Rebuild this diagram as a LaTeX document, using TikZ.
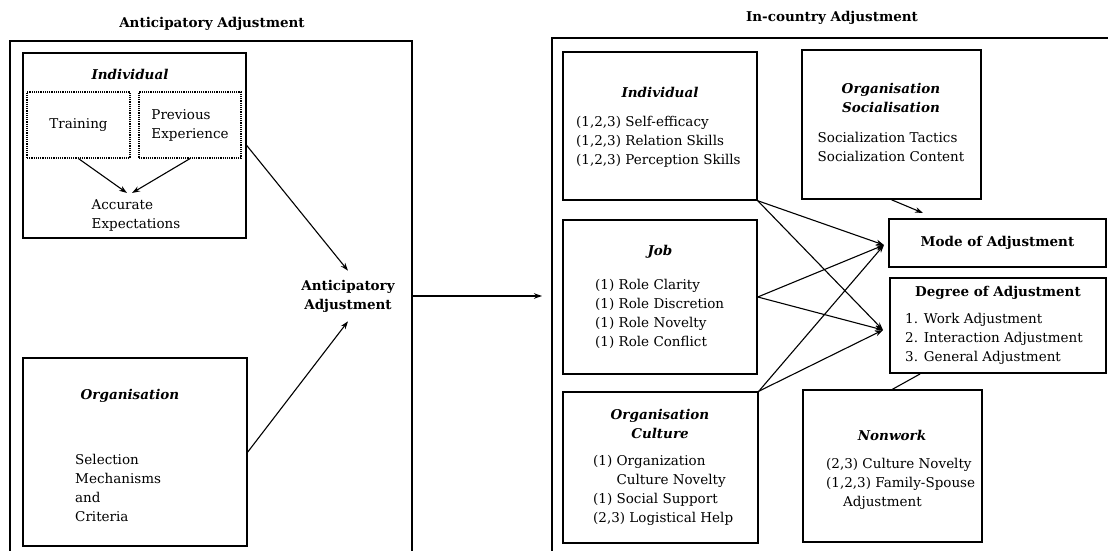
\documentclass[tikz,border=0pt]{standalone}
\usepackage{fontspec}
\setmainfont{DejaVu Serif}
\usetikzlibrary{arrows.meta}

\tikzset{
  box/.style={draw, line width=1.5pt, inner sep=0pt},
  dotbox/.style={draw, line width=1.2pt, densely dotted, inner sep=0pt},
  lbl/.style={font=\fontsize{13.5}{19}\selectfont, align=left, inner sep=0pt},
  ttl/.style={font=\fontsize{13.5}{19}\selectfont\bfseries\itshape, align=center, inner sep=0pt},
  bttl/.style={font=\fontsize{13.5}{19}\selectfont\bfseries, align=center, inner sep=0pt},
  arr/.style={-{Stealth[length=8pt,width=5.5pt]}, line width=1.1pt},
}

\begin{document}
\begin{tikzpicture}[x=1pt,y=-1pt]
\useasboundingbox (0,0) rectangle (1108,551);

% anticipatory side
\draw[line width=1.4pt] (10,560) -- (10,41) -- (412,41) -- (412,560);
\node[bttl] (titleL) at (212,24) {Anticipatory Adjustment};
\node[box, minimum width=223pt, minimum height=185pt] (indL) at (134.5,145.5) {};
\node[ttl] (indLt) at (130,74) {Individual};
\node[dotbox, lbl, minimum width=103pt, minimum height=66pt] (train) at (78.5,125) {Training};
\node[dotbox, lbl, minimum width=102pt, minimum height=66pt] (prev) at (190,125) {Previous\\Experience};
\node[lbl] (acc) at (136,215) {Accurate\\Expectations};
\coordinate (acc1) at (127,193);
\coordinate (acc2) at (132,193);
\node[box, minimum width=224pt, minimum height=188pt] (orgL) at (135,452) {};
\node[ttl] (orgLt) at (130,396) {Organisation};
\node[lbl, anchor=west] (sel) at (75,488) {Selection\\Mechanisms\\and\\Criteria};
\node[bttl, inner sep=9pt] (ant) at (348,296) {Anticipatory\\Adjustment};

\draw[arr] (train.south) -- (acc1);
\draw[arr] (prev.south) -- (acc2);
\draw[arr] (indL.east) -- (ant.north);
\draw[arr] (orgL.east) -- (ant.south);

\coordinate (outL) at (412,296);
\coordinate (outR) at (542,296);
\draw[arr] (outL) -- (outR);

% in-country side
\draw[line width=1.4pt] (552,560) -- (552,38) -- (1120,38);
\node[bttl] (titleR) at (832,18) {In-country Adjustment};

\node[box, minimum width=194pt, minimum height=148pt] (indR) at (660,126) {};
\node[ttl] (indRt) at (660,92) {Individual};
\node[lbl, anchor=west] (indRl) at (576,142) {(1,2,3) Self-efficacy\\(1,2,3) Relation Skills\\(1,2,3) Perception Skills};

\node[box, minimum width=194pt, minimum height=154pt] (job) at (660,297) {};
\node[ttl] (jobt) at (660,252) {Job};
\node[lbl, anchor=west] (jobl) at (595,313.5) {(1) Role Clarity\\(1) Role Discretion\\(1) Role Novelty\\(1) Role Conflict};

\node[box, minimum width=195pt, minimum height=151pt] (cult) at (660.5,467.5) {};
\node[ttl] (cultt) at (660,423.5) {Organisation\\Culture};
\node[lbl, anchor=west] (cultl) at (593,490.5) {(1) Organization\\\phantom{(1) }Culture Novelty\\(1) Social Support\\(2,3) Logistical Help};

\node[box, minimum width=179pt, minimum height=149pt] (soc) at (891.5,124.5) {};
\node[ttl] (soct) at (891,98) {Organisation\\Socialisation};
\node[lbl] (socl) at (891,147) {Socialization Tactics\\Socialization Content};

\node[box, bttl, minimum width=217pt, minimum height=48pt] (mode) at (997.5,243) {Mode of Adjustment};

\node[box, minimum width=216pt, minimum height=95pt] (deg) at (998,325.5) {};
\node[bttl] (degt) at (998,293) {Degree of Adjustment};
\node[lbl, anchor=west] (degl) at (905,339) {1. Work Adjustment\\2. Interaction Adjustment\\3. General Adjustment};

\node[box, minimum width=179pt, minimum height=152pt] (nonw) at (892.5,466) {};
\node[ttl] (nont) at (892,435) {Nonwork};
\node[lbl, anchor=west] (nonl) at (826,483.5) {(2,3) Culture Novelty\\(1,2,3) Family-Spouse\\\hspace*{17pt}Adjustment};

\coordinate (modeIn) at (884,245);
\coordinate (degIn) at (883,330);
\coordinate (modeTop) at (923,213);
\coordinate (degBot) at (920,374);

\draw[arr] (indR.south east) -- (modeIn);
\draw[arr] (indR.south east) -- (degIn);
\draw[arr] (job.east) -- (modeIn);
\draw[arr] (job.east) -- (degIn);
\draw[arr] (cult.north east) -- (modeIn);
\draw[arr] (cult.north east) -- (degIn);
\draw[arr] (soc.south) -- (modeTop);
\draw[line width=1.1pt] (nonw.north) -- (degBot);
\end{tikzpicture}
\end{document}
